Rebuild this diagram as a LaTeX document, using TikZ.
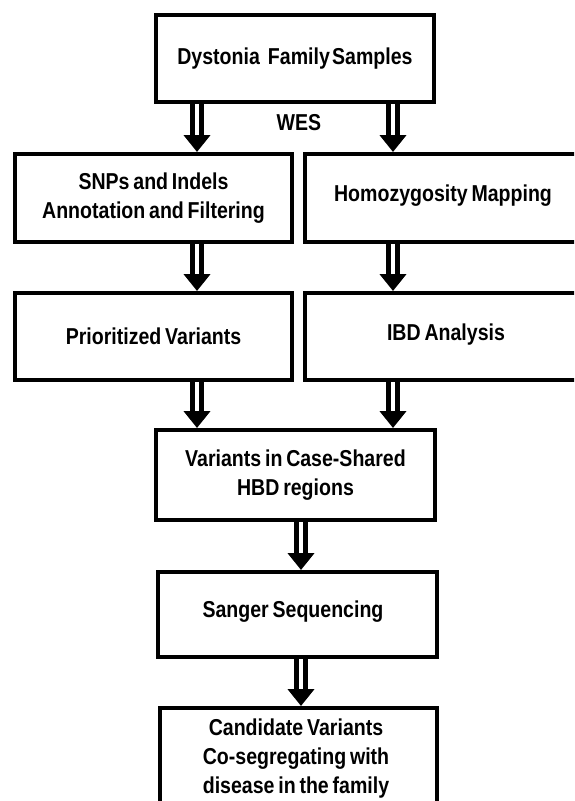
\documentclass[tikz,border=0pt]{standalone}
\usepackage{fontspec}
\setmainfont{Liberation Sans}[FakeStretch=0.85,WordSpace=0.7]
\usetikzlibrary{arrows.meta}
\begin{document}
\begin{tikzpicture}[x=1pt,y=-1pt,
  box/.style={draw, line width=4pt, rectangle, inner sep=0pt},
  lbl/.style={font=\fontsize{23}{29}\selectfont\bfseries, align=center, inner sep=0pt},
  dbl/.style={line width=5pt, double, double distance=4pt, -{Triangle[width=26pt,length=17pt]}}
]
\useasboundingbox (0,0) rectangle (574,801);
\clip (0,0) rectangle (574,801);
\fill[white] (0,0) rectangle (574,801);

% boxes
\node[box, lbl, minimum width=278pt, minimum height=87pt] (top) at (295,58.5) {Dystonia\hspace{0.35em}Family\hspace{0.1em}Samples};
\node[box, lbl, minimum width=277pt, minimum height=88pt] (snp) at (153.5,198) {SNPs and Indels\\Annotation and Filtering};
\node[box, minimum width=345pt, minimum height=88pt] (hm) at (477.5,198) {};
\node[box, lbl, minimum width=277pt, minimum height=87pt] (pv) at (153.5,336.5) {Prioritized Variants};
\node[box, minimum width=345pt, minimum height=87pt] (ibd) at (477.5,336.5) {};
\node[box, lbl, minimum width=279pt, minimum height=90pt] (vc) at (295.5,475) {Variants in Case-Shared\\HBD regions};
\node[box, minimum width=279pt, minimum height=85pt] (ss) at (297.5,614.5) {};
\node[box, minimum width=277pt, minimum height=142pt] (cv) at (298.5,779) {};

% texts placed off-centre in their boxes
\node[lbl] (hmt) at (443,196) {Homozygosity Mapping};
\node[lbl] (ibdt) at (446,335) {IBD Analysis};
\node[lbl] (sst) at (293,612) {Sanger Sequencing};
\node[lbl] (cvt) at (296,759) {Candidate Variants\\Co-segregating with\\disease in the family};
\node[lbl] (wes) at (299,123) {WES};

% arrow columns
\coordinate (c1) at (197,0);
\coordinate (c2) at (393,0);
\coordinate (c5) at (301,0);

\draw[dbl] (top.south -| c1) -- (snp.north -| c1);
\draw[dbl] (top.south -| c2) -- (hm.north -| c2);
\draw[dbl] (snp.south -| c1) -- (pv.north -| c1);
\draw[dbl] (hm.south -| c2) -- (ibd.north -| c2);
\draw[dbl] (pv.south -| c1) -- (vc.north -| c1);
\draw[dbl] (ibd.south -| c2) -- (vc.north -| c2);
\draw[dbl] (vc.south -| c5) -- (ss.north -| c5);
\draw[dbl] (ss.south -| c5) -- (cv.north -| c5);
\end{tikzpicture}
\end{document}
